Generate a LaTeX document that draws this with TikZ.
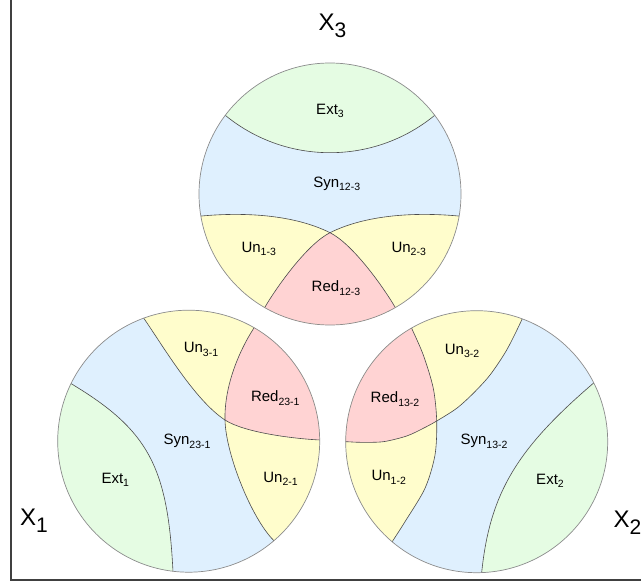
\documentclass[tikz,border=0pt]{standalone}
\usepackage{fontspec}
\setmainfont{Liberation Sans}

% Farben der Felder
\definecolor{extgruen}{HTML}{E5FCE3}
\definecolor{synblau}{HTML}{DFF0FE}
\definecolor{ungelb}{HTML}{FFFDCC}
\definecolor{redrot}{HTML}{FFD3D3}

% Feldname mit tiefgestelltem Index
\newcommand{\feld}[2]{{\fontsize{15}{18}\selectfont #1\raisebox{-3.5pt}{\fontsize{10.5}{12}\selectfont #2}}}
\newcommand{\quelle}[1]{{\fontsize{24}{28}\selectfont X\raisebox{-7pt}{\fontsize{21}{24}\selectfont #1}}}

\tikzset{
  rand/.style={draw=black!45, line width=0.7pt},
  grenze/.style={draw=black!70, line width=0.6pt},
  feldtext/.style={inner sep=0pt},
}

\begin{document}
\begin{tikzpicture}[x=1pt, y=-1pt]
    \useasboundingbox (0,0) rectangle (641,583);

    % Rahmen
    \draw[black!75, line width=1.2pt] (11,0) -- (11,580) -- (641,580);

    \def\ra{131}

    % Kreis X3
    \coordinate (m3) at (330,194);
    \def\extDrei{(330,-12.7) circle (165.4)}
    \def\schattenEinsDrei{(185,217.5) -- (201.7,216) .. controls (245,212) and (294.2,214.8) .. (330,232.7) .. controls (352.4,243.9) and (382.3,285.5) .. (395,307) -- (405,324)}
    \def\schattenZweiDrei{(475,217.5) -- (458.3,216) .. controls (415,212) and (365.8,214.8) .. (330,232.7) .. controls (307.6,243.9) and (277.7,285.5) .. (265,307) -- (255,324)}
    \def\flaecheEinsDrei{\schattenEinsDrei -- (405,360) -- (170,360) -- (170,217.5) -- cycle}
    \def\flaecheZweiDrei{\schattenZweiDrei -- (255,360) -- (490,360) -- (490,217.5) -- cycle}
    \begin{scope}
        \clip (m3) circle (\ra);
        \fill[synblau] (m3) circle (\ra);
        \fill[extgruen] \extDrei;
        \fill[ungelb] \flaecheEinsDrei;
        \fill[ungelb] \flaecheZweiDrei;
        \begin{scope}
            \clip \flaecheEinsDrei;
            \fill[redrot] \flaecheZweiDrei;
        \end{scope}
        \draw[grenze] \extDrei;
        \draw[grenze] \schattenEinsDrei;
        \draw[grenze] \schattenZweiDrei;
    \end{scope}
    \draw[rand] (m3) circle (\ra);

    % Kreis X1
    \coordinate (m1) at (188.7,441.2);
    \def\extEins{(60,377) -- (71.7,384) .. controls (148.8,430.4) and (167.8,467) .. (173,572) -- (173.5,590)}
    \def\schattenDreiEins{(135,306) -- (145,320) .. controls (164.7,348.9) and (195.7,400.9) .. (225,420) .. controls (243.4,432) and (290,438.5) .. (320,440) -- (335,441)}
    \def\schattenZweiEins{(262,315) -- (253.3,329) .. controls (239.8,350.1) and (224.2,385) .. (225,420) .. controls (225.8,455) and (252.1,518.8) .. (273.3,540) -- (284,556)}
    \def\flaecheDreiEins{\schattenDreiEins -- (335,290) -- (135,290) -- cycle}
    \def\flaecheZweiEins{\schattenZweiEins -- (340,556) -- (340,315) -- cycle}
    \begin{scope}
        \clip (m1) circle (\ra);
        \fill[synblau] (m1) circle (\ra);
        \fill[extgruen] \extEins -- (40,590) -- (40,377) -- cycle;
        \fill[ungelb] \flaecheDreiEins;
        \fill[ungelb] \flaecheZweiEins;
        \begin{scope}
            \clip \flaecheDreiEins;
            \fill[redrot] \flaecheZweiEins;
        \end{scope}
        \draw[grenze] \extEins;
        \draw[grenze] \schattenDreiEins;
        \draw[grenze] \schattenZweiEins;
    \end{scope}
    \draw[rand] (m1) circle (\ra);

    % Kreis X2
    \coordinate (m2) at (476.7,441.7);
    \def\extZwei{(610,369) -- (593.3,383.3) .. controls (517.4,448.4) and (489.9,492.7) .. (481.7,572.3) -- (481.5,590)}
    \def\schattenDreiZwei{plot[smooth] coordinates {(330,441.5) (346,441.7) (360,442.3) (383.3,441.7) (406.7,436) (423.3,428.3) (436.7,421) (456.7,408.3) (473.3,393.3) (490,375) (506.7,350) (521.7,320) (528,304)}}
    \def\schattenEinsZwei{plot[smooth] coordinates {(405,313) (411.7,328.3) (423.3,355) (433.3,388.3) (436.7,421) (435,455) (425,488.3) (405,521.7) (393.3,540) (383,556)}}
    \def\flaecheDreiZwei{\schattenDreiZwei -- (530,290) -- (330,290) -- cycle}
    \def\flaecheEinsZwei{\schattenEinsZwei -- (330,556) -- (330,313) -- cycle}
    \begin{scope}
        \clip (m2) circle (\ra);
        \fill[synblau] (m2) circle (\ra);
        \fill[extgruen] \extZwei -- (620,590) -- (620,369) -- cycle;
        \fill[ungelb] \flaecheDreiZwei;
        \fill[ungelb] \flaecheEinsZwei;
        \begin{scope}
            \clip \flaecheDreiZwei;
            \fill[redrot] \flaecheEinsZwei;
        \end{scope}
        \draw[grenze] \extZwei;
        \draw[grenze] \schattenDreiZwei;
        \draw[grenze] \schattenEinsZwei;
    \end{scope}
    \draw[rand] (m2) circle (\ra);

    % Beschriftung X3
    \node[feldtext] (ext3) at (330,111) {\feld{Ext}{3}};
    \node[feldtext] (syn3) at (336.7,184) {\feld{Syn}{12-3}};
    \node[feldtext] (un13) at (258.7,249) {\feld{Un}{1-3}};
    \node[feldtext] (un23) at (408.7,249) {\feld{Un}{2-3}};
    \node[feldtext] (red3) at (336,288) {\feld{Red}{12-3}};

    % Beschriftung X1
    \node[feldtext] (un31) at (201,349.5) {\feld{Un}{3-1}};
    \node[feldtext] (red1) at (275.3,398) {\feld{Red}{23-1}};
    \node[feldtext] (syn1) at (187,441.3) {\feld{Syn}{23-1}};
    \node[feldtext] (ext1) at (115.3,479.7) {\feld{Ext}{1}};
    \node[feldtext] (un21) at (280.5,479) {\feld{Un}{2-1}};

    % Beschriftung X2
    \node[feldtext] (un32) at (462,350.8) {\feld{Un}{3-2}};
    \node[feldtext] (red2) at (395,399) {\feld{Red}{13-2}};
    \node[feldtext] (syn2) at (484,441.3) {\feld{Syn}{13-2}};
    \node[feldtext] (un12) at (388.7,477.5) {\feld{Un}{1-2}};
    \node[feldtext] (ext2) at (550,480.8) {\feld{Ext}{2}};

    % Quellen
    \node[feldtext, anchor=base west] (x3) at (318.3,30.7) {\quelle{3}};
    \node[feldtext, anchor=base west] (x1) at (20,525) {\quelle{1}};
    \node[feldtext, anchor=base west] (x2) at (613.3,527.3) {\quelle{2}};
\end{tikzpicture}
\end{document}
